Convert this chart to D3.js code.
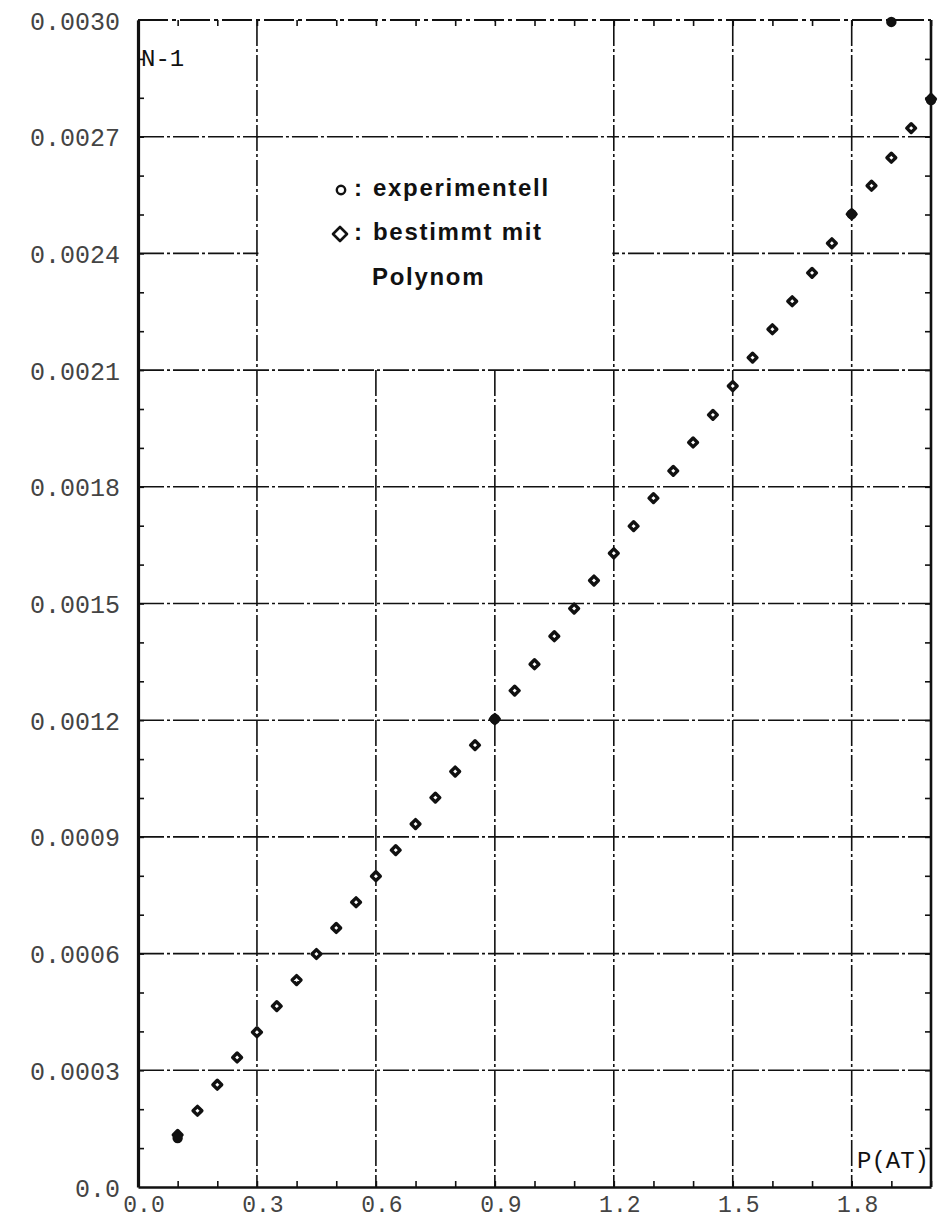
<!DOCTYPE html>
<html>
<head>
<meta charset="utf-8">
<script src="https://cdn.jsdelivr.net/npm/d3@7"></script>
<style>
  html, body { margin: 0; padding: 0; background: #fff; }
  svg { display: block; }
</style>
</head>
<body>
<svg id="chart" width="942" height="1221"></svg>
<script>
// Pressure P (AT) on the x axis, N-1 on the y axis
const xTicksMajor = [0.0, 0.3, 0.6, 0.9, 1.2, 1.5, 1.8];
const yTicksMajor = [0.0, 0.0003, 0.0006, 0.0009, 0.0012, 0.0015, 0.0018, 0.0021, 0.0024, 0.0027, 0.0030];
const xTicksMinor = [0.0, 0.1, 0.2, 0.3, 0.4, 0.5, 0.6, 0.7, 0.8, 0.9, 1.0, 1.1, 1.2, 1.3, 1.4, 1.5, 1.6, 1.7, 1.8, 1.9, 2.0];
const yTicksMinor = [0.0001, 0.0002, 0.0003, 0.0004, 0.0005, 0.0006, 0.0007, 0.0008, 0.0009, 0.0010,
                     0.0011, 0.0012, 0.0013, 0.0014, 0.0015, 0.0016, 0.0017, 0.0018, 0.0019, 0.0020,
                     0.0021, 0.0022, 0.0023, 0.0024, 0.0025, 0.0026, 0.0027, 0.0028, 0.0029];

// Values computed with the polynomial (diamonds)
const polyP = [0.10, 0.15, 0.20, 0.25, 0.30, 0.35, 0.40, 0.45, 0.50, 0.55,
               0.60, 0.65, 0.70, 0.75, 0.80, 0.85, 0.90, 0.95, 1.00, 1.05,
               1.10, 1.15, 1.20, 1.25, 1.30, 1.35, 1.40, 1.45, 1.50, 1.55,
               1.60, 1.65, 1.70, 1.75, 1.80, 1.85, 1.90, 1.95, 2.00];
const polyN = [0.000134, 0.000196, 0.000263, 0.000333, 0.000398, 0.000465, 0.000532, 0.000599, 0.000666, 0.000732,
               0.000799, 0.000866, 0.000933, 0.001001, 0.001068, 0.001136, 0.001203, 0.001276, 0.001344, 0.001416,
               0.001487, 0.001559, 0.001629, 0.001699, 0.001771, 0.001841, 0.001914, 0.001985, 0.002059, 0.002132,
               0.002205, 0.002277, 0.002350, 0.002426, 0.002501, 0.002574, 0.002646, 0.002722, 0.002797];

// Measured values (circles)
const expP = [0.10, 0.90, 1.80, 1.90, 2.00];
const expN = [0.000126, 0.001203, 0.002501, 0.002995, 0.002794];

const svg = d3.select("#chart");
const x = d3.scaleLinear().domain([0, 2.0]).range([138, 931]);
const y = d3.scaleLinear().domain([0, 0.0030]).range([1187, 20]);

const monoFont = "'Liberation Mono', 'DejaVu Sans Mono', monospace";
const ink = "#111";
const dashDot = "26,3,3,3";

// grid (dash-dot plotter lines)
const grid = svg.append("g").attr("stroke", ink).attr("stroke-width", 1.6)
  .attr("stroke-dasharray", dashDot).attr("fill", "none");
grid.selectAll("line.gx").data(xTicksMajor.filter(d => d > 0)).join("line")
  .attr("class", "gx")
  .attr("x1", d => x(d)).attr("x2", d => x(d))
  .attr("y1", y(0.0030)).attr("y2", y(0));
grid.selectAll("line.gy").data(yTicksMajor.filter(d => d > 0 && d < 0.0030)).join("line")
  .attr("class", "gy")
  .attr("x1", x(0)).attr("x2", x(2.0))
  .attr("y1", d => y(d)).attr("y2", d => y(d));

// legend panel: blank area between P = 0.3..1.2 above N-1 = 0.0021
svg.append("rect")
  .attr("x", x(0.3) + 1.5).attr("y", y(0.0030) + 1.5)
  .attr("width", x(1.2) - x(0.3) - 3).attr("height", y(0.0021) - y(0.0030) - 3)
  .attr("fill", "#fff");
// the 0.0027 line still runs through the panel
svg.append("line").attr("x1", x(0.3)).attr("x2", x(1.2))
  .attr("y1", y(0.0027)).attr("y2", y(0.0027))
  .attr("stroke", ink).attr("stroke-width", 1.6).attr("stroke-dasharray", dashDot);

// frame
svg.append("line").attr("x1", x(0)).attr("x2", x(2.0)).attr("y1", y(0.003)).attr("y2", y(0.003))
  .attr("stroke", ink).attr("stroke-width", 2).attr("stroke-dasharray", "30,4,4,4");
svg.append("line").attr("x1", x(2.0)).attr("x2", x(2.0)).attr("y1", y(0.003)).attr("y2", y(0))
  .attr("stroke", ink).attr("stroke-width", 2.6);

// bottom axis with inward minor ticks
const xAxis = svg.append("g").attr("transform", `translate(0,${y(0)})`)
  .call(d3.axisBottom(x).tickValues(xTicksMinor).tickSizeInner(-6).tickSizeOuter(0).tickFormat(""));
xAxis.select(".domain").attr("stroke", ink).attr("stroke-width", 2.6);
xAxis.selectAll(".tick line").attr("stroke", ink).attr("stroke-width", 1.6);

// top ticks
const xTop = svg.append("g").attr("transform", `translate(0,${y(0.003)})`)
  .call(d3.axisTop(x).tickValues(xTicksMinor).tickSizeInner(-6).tickSizeOuter(0).tickFormat(""));
xTop.select(".domain").remove();
xTop.selectAll(".tick line").attr("stroke", ink).attr("stroke-width", 1.6);

// left axis with inward minor ticks
const yAxis = svg.append("g").attr("transform", `translate(${x(0)},0)`)
  .call(d3.axisLeft(y).tickValues(yTicksMinor).tickSizeInner(-6).tickSizeOuter(0).tickFormat(""));
yAxis.select(".domain").attr("stroke", ink).attr("stroke-width", 3.2);
yAxis.selectAll(".tick line").attr("stroke", ink).attr("stroke-width", 1.6);

// right ticks
const yRight = svg.append("g").attr("transform", `translate(${x(2.0)},0)`)
  .call(d3.axisRight(y).tickValues(yTicksMinor).tickSizeInner(-6).tickSizeOuter(0).tickFormat(""));
yRight.select(".domain").remove();
yRight.selectAll(".tick line").attr("stroke", ink).attr("stroke-width", 1.6);

// tick labels
const yLab = svg.append("g").attr("transform", `translate(${x(0)},0)`)
  .call(d3.axisLeft(y).tickValues(yTicksMajor).tickSize(0).tickPadding(18)
    .tickFormat(d => d === 0 ? "0.0" : d.toFixed(4)));
yLab.select(".domain").remove();
yLab.selectAll("text").attr("font-family", monoFont).attr("font-size", 25)
  .attr("fill", "#444").attr("dy", "0.36em");

const xLab = svg.append("g").attr("transform", `translate(0,${y(0)})`)
  .call(d3.axisBottom(x).tickValues(xTicksMajor).tickSize(0).tickPadding(0)
    .tickFormat(d => d.toFixed(1)));
xLab.select(".domain").remove();
xLab.selectAll("text").attr("font-family", monoFont).attr("font-size", 23)
  .attr("fill", "#444").attr("dx", 5.5).attr("dy", 0).attr("y", 25);

// axis titles
svg.append("text").attr("x", x(0) + 3).attr("y", 66)
  .attr("font-family", monoFont).attr("font-size", 24).attr("fill", ink).text("N-1");
svg.append("text").attr("x", 857).attr("y", 1168)
  .attr("font-family", monoFont).attr("font-size", 24).attr("fill", ink).text("P(AT)");

// marks
const diamond = (cx, cy, r) => `M${cx},${cy - r}L${cx + r},${cy}L${cx},${cy + r}L${cx - r},${cy}Z`;

svg.append("g").selectAll("path").data(polyP.map((p, i) => [p, polyN[i]])).join("path")
  .attr("d", d => diamond(x(d[0]), y(d[1]), 4.4))
  .attr("fill", "#fff").attr("stroke", ink).attr("stroke-width", 3.4)
  .attr("stroke-linejoin", "round");

svg.append("g").selectAll("circle").data(expP.map((p, i) => [p, expN[i]])).join("circle")
  .attr("cx", d => x(d[0])).attr("cy", d => y(d[1])).attr("r", 5.2)
  .attr("fill", ink);

// legend
const legFont = "'Liberation Sans', Arial, sans-serif";
const leg = svg.append("g").attr("font-family", legFont).attr("font-size", 24)
  .attr("font-weight", "bold").attr("fill", ink).attr("letter-spacing", 1.7);
svg.append("circle").attr("cx", 341).attr("cy", 190).attr("r", 4.2)
  .attr("fill", "none").attr("stroke", ink).attr("stroke-width", 2.4);
svg.append("path").attr("d", diamond(340, 234, 7))
  .attr("fill", "none").attr("stroke", ink).attr("stroke-width", 2.6).attr("stroke-linejoin", "round");
leg.append("text").attr("x", 354).attr("y", 196).text(":");
leg.append("text").attr("x", 354).attr("y", 240).text(":");
leg.append("text").attr("x", 373).attr("y", 196).text("experimentell");
leg.append("text").attr("x", 373).attr("y", 240).text("bestimmt mit");
leg.append("text").attr("x", 372).attr("y", 285).text("Polynom");
</script>
</body>
</html>
